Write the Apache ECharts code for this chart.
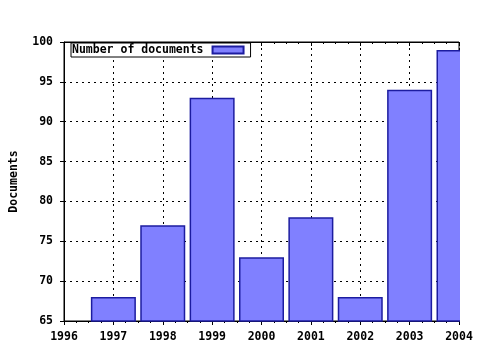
<!DOCTYPE html>
<html><head><meta charset="utf-8">
<script src="https://cdn.jsdelivr.net/npm/echarts@6/dist/echarts.min.js"></script>
<style>html,body{margin:0;padding:0;background:#fff}#c{width:480px;height:350px}</style>
</head><body><div id="c"></div>
<script>
const years = [1997, 1998, 1999, 2000, 2001, 2002, 2003, 2004];
const documents = [68, 77, 93, 73, 78, 68, 94, 99];
const seriesName = 'Number of documents';
const yAxisName = 'Documents';

const font = 'DejaVu Sans Mono';
const chart = echarts.init(document.getElementById('c'), null, {renderer: 'canvas'});
const grid = {left: 63, right: 21, top: 42, bottom: 29, show: true, borderColor: '#000', borderWidth: 1, backgroundColor: '#fff'};
const splitDotted = {show: true, lineStyle: {color: '#000', type: [2, 4], width: 1}};
chart.setOption({
  animation: false,
  backgroundColor: '#fff',
  grid: grid,
  legend: {
    left: 71, top: 43, orient: 'horizontal', align: 'right',
    itemWidth: 31, itemHeight: 7, itemGap: 4,
    padding: [1, 6, 1, 1],
    backgroundColor: '#fff', borderColor: '#000', borderWidth: 1,
    textStyle: {fontFamily: font, fontWeight: 'bold', fontSize: 11.5, color: '#000', padding: [0, 4, 0, 0]},
    data: [{name: seriesName, icon: 'rect'}]
  },
  graphic: [{
    type: 'rect', z: 100, silent: true,
    shape: {x: 460, y: 30, width: 30, height: 294},
    style: {fill: '#fff'}
  }],
  xAxis: [{
    type: 'value', min: 1996, max: 2004, interval: 1, position: 'bottom',
    axisLine: {show: true, lineStyle: {color: '#000', width: 1}},
    axisTick: {show: true, length: 4, lineStyle: {color: '#000'}},
    minorTick: {show: true, splitNumber: 4, length: 2, lineStyle: {color: '#000'}},
    splitLine: splitDotted,
    axisLabel: {color: '#000', fontFamily: font, fontWeight: 'bold', fontSize: 11.5, margin: 10, formatter: v => String(v)}
  }, {
    type: 'value', min: 1996, max: 2004, interval: 1, position: 'top',
    axisLine: {show: true, lineStyle: {color: '#000', width: 1}},
    axisTick: {show: true, inside: true, length: 4, lineStyle: {color: '#000'}},
    minorTick: {show: true, splitNumber: 4, length: 2, lineStyle: {color: '#000'}},
    splitLine: {show: false},
    axisLabel: {show: false}
  }],
  yAxis: {
    type: 'value', min: 65, max: 100, interval: 5,
    name: yAxisName, nameLocation: 'middle', nameGap: 44, nameRotate: 90,
    nameTextStyle: {fontFamily: font, fontWeight: 'bold', fontSize: 11.5, color: '#000'},
    axisLine: {show: true, lineStyle: {color: '#000', width: 1}},
    axisTick: {show: true, length: 4, lineStyle: {color: '#000'}},
    splitLine: splitDotted,
    axisLabel: {color: '#000', fontFamily: font, fontWeight: 'bold', fontSize: 11.5, margin: 11}
  },
  series: [{
    name: seriesName, type: 'bar', xAxisIndex: 0,
    data: years.map((y, i) => [y, documents[i]]),
    barWidth: 45, clip: true,
    itemStyle: {color: '#8080ff', borderColor: '#1c1ca0', borderWidth: 1.5}
  }]
});
</script></body></html>
